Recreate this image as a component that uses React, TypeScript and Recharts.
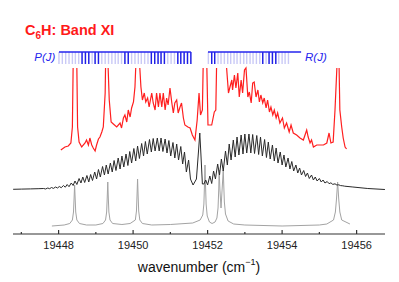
import React from "react";
import { LineChart, Line, XAxis, YAxis, ReferenceLine } from "recharts";

// intensity in arbitrary units (0 = bottom of frame, 221 = top of frame)
const redTrace: [number, number | null][] = [
  [19448.06, 84], [19448.17, 87], [19448.26, 88], [19448.33, 91], [19448.37, 107], [19448.39, 166],
  [19448.44, null],
  [19448.49, 166], [19448.51, 107], [19448.55, 92], [19448.62, 87], [19448.71, 91], [19448.75, 94],
  [19448.8, 89], [19448.84, 96], [19448.89, 89], [19448.93, 86], [19448.98, 83], [19449.02, 89],
  [19449.07, 95], [19449.11, 97], [19449.16, 102], [19449.2, 107], [19449.25, 141], [19449.26, 166],
  [19449.3, null],
  [19449.33, 166], [19449.36, 134], [19449.41, 112], [19449.47, 110], [19449.56, 107], [19449.65, 111],
  [19449.69, 106], [19449.74, 116], [19449.78, 119], [19449.83, 112], [19449.87, 124], [19449.92, 117],
  [19449.96, 126], [19450.01, 132], [19450.05, 147], [19450.07, 166],
  [19450.12, null],
  [19450.18, 166], [19450.21, 147], [19450.25, 134], [19450.3, 141], [19450.34, 132], [19450.39, 136],
  [19450.43, 127], [19450.5, 141], [19450.54, 131], [19450.59, 124], [19450.63, 141], [19450.68, 127],
  [19450.72, 141], [19450.77, 127], [19450.81, 141], [19450.86, 124], [19450.9, 136], [19450.94, 129],
  [19450.99, 146], [19451.04, 131], [19451.08, 121], [19451.12, 131], [19451.17, 134], [19451.21, 121],
  [19451.26, 127], [19451.3, 131], [19451.35, 116], [19451.39, 109], [19451.47, 107], [19451.53, 106],
  [19451.59, 99], [19451.66, 94], [19451.72, 114], [19451.77, 141], [19451.81, 119], [19451.86, 124],
  [19451.88, 166],
  [19451.93, null],
  [19451.98, 166], [19452.01, 109], [19452.11, 109], [19452.18, 122], [19452.22, 124], [19452.24, 166],
  [19452.4, null],
  [19452.51, 166], [19452.56, 141], [19452.6, 147], [19452.65, 154], [19452.67, 144], [19452.72, 159],
  [19452.76, 146], [19452.81, 161], [19452.85, 137], [19452.9, 154], [19452.94, 141], [19452.99, 164],
  [19453.03, 166], [19453.08, 137], [19453.12, 142], [19453.17, 131], [19453.21, 151], [19453.25, 152],
  [19453.3, 137], [19453.35, 144], [19453.39, 132], [19453.43, 139], [19453.48, 131], [19453.52, 136],
  [19453.57, 126], [19453.61, 134], [19453.66, 122], [19453.7, 127], [19453.75, 119], [19453.79, 124],
  [19453.84, 116], [19453.88, 121], [19453.94, 111], [19454.01, 116], [19454.06, 106], [19454.12, 111],
  [19454.19, 102], [19454.24, 109], [19454.3, 101], [19454.39, 99], [19454.48, 96], [19454.57, 94],
  [19454.66, 104], [19454.7, 97], [19454.75, 91], [19454.79, 94], [19454.84, 87], [19454.93, 89],
  [19455.02, 89], [19455.11, 89], [19455.2, 91], [19455.26, 101], [19455.31, 91], [19455.37, 92],
  [19455.42, 124], [19455.47, 166],
  [19455.5, null],
  [19455.53, 166], [19455.55, 124], [19455.6, 107], [19455.64, 96], [19455.69, 87], [19455.73, 85],
];

const blackTrace: [number, number][] = [
  [19446.78, 44.7], [19447.0, 44.9], [19447.25, 45.1], [19447.45, 45.3],
  [19447.6, 45.5], [19447.65, 45.0], [19447.71, 46], [19447.76, 45.3], [19447.81, 46.5], [19447.86, 45.6],
  [19447.92, 47], [19447.97, 46], [19448.02, 47.5], [19448.07, 46.3], [19448.13, 48.5], [19448.18, 46.8],
  [19448.23, 49.5], [19448.28, 47.3], [19448.34, 51], [19448.39, 48.5], [19448.44, 53], [19448.49, 49.5],
  [19448.55, 55.5], [19448.6, 51], [19448.65, 57], [19448.7, 51.5], [19448.76, 58.5], [19448.81, 52],
  [19448.86, 59.5], [19448.91, 53.5], [19448.97, 62], [19449.02, 55], [19449.07, 64.5], [19449.12, 57],
  [19449.18, 67.5], [19449.23, 59], [19449.28, 69], [19449.33, 60], [19449.39, 71], [19449.44, 62],
  [19449.49, 73.5], [19449.54, 63.5], [19449.6, 76], [19449.65, 65], [19449.7, 78], [19449.75, 67],
  [19449.81, 80], [19449.86, 68.5], [19449.91, 82.5], [19449.96, 71], [19450.02, 85.5], [19450.07, 73],
  [19450.12, 88], [19450.17, 75.5], [19450.23, 90.5], [19450.28, 78], [19450.33, 92.5], [19450.38, 80],
  [19450.44, 94.5], [19450.49, 82], [19450.54, 95.5], [19450.59, 83], [19450.65, 96], [19450.7, 83],
  [19450.75, 96], [19450.8, 82.5], [19450.86, 95], [19450.91, 81], [19450.96, 93.5], [19451.01, 78],
  [19451.07, 91.5], [19451.12, 76], [19451.17, 90], [19451.22, 74], [19451.28, 87.5], [19451.33, 70],
  [19451.38, 82], [19451.43, 62], [19451.49, 74], [19451.54, 55],
  [19451.61, 49], [19451.7, 55], [19451.76, 85], [19451.79, 101], [19451.82, 80], [19451.86, 50], [19451.9, 50],
  [19451.95, 54], [19452.0, 49], [19452.06, 58], [19452.11, 50.5], [19452.16, 63], [19452.21, 55],
  [19452.27, 70], [19452.32, 59], [19452.37, 75], [19452.42, 63], [19452.48, 83], [19452.53, 69],
  [19452.58, 90], [19452.63, 74], [19452.69, 94], [19452.74, 77], [19452.79, 97], [19452.84, 79],
  [19452.9, 99], [19452.95, 80], [19453.0, 100], [19453.05, 81], [19453.11, 100], [19453.16, 81],
  [19453.21, 99.5], [19453.26, 80.5], [19453.32, 98.5], [19453.37, 79.5], [19453.42, 97], [19453.47, 78],
  [19453.53, 94.5], [19453.58, 76.5], [19453.63, 92], [19453.68, 75], [19453.74, 89], [19453.79, 73],
  [19453.84, 86], [19453.89, 71], [19453.95, 82], [19454.0, 69], [19454.05, 79], [19454.1, 67],
  [19454.16, 76], [19454.21, 65], [19454.26, 72.5], [19454.31, 63], [19454.37, 69], [19454.42, 61],
  [19454.47, 66], [19454.52, 59], [19454.58, 63.5], [19454.63, 57.5], [19454.68, 61], [19454.73, 55.5],
  [19454.79, 59], [19454.84, 54], [19454.89, 57], [19454.94, 53], [19455.0, 55.5], [19455.05, 52],
  [19455.1, 54], [19455.15, 51], [19455.21, 52.5], [19455.26, 50.3], [19455.31, 51.2], [19455.36, 49.6],
  [19455.42, 50.2], [19455.47, 49], [19455.52, 49.2], [19455.57, 48.4], [19455.63, 48.2], [19455.68, 47.8],
  [19455.9, 47], [19456.3, 45.5], [19456.76, 44.5],
];

const grayTrace: [number, number][] = [
  [19447.82, 8], [19448.15, 9], [19448.3, 10.5], [19448.37, 14], [19448.4, 22], [19448.415, 35],
  [19448.43, 49], [19448.445, 35], [19448.46, 22], [19448.49, 14], [19448.56, 10.5], [19448.75, 9],
  [19449.0, 9], [19449.19, 10.5], [19449.26, 14], [19449.29, 22], [19449.305, 36], [19449.32, 52],
  [19449.335, 36], [19449.35, 22], [19449.38, 14], [19449.45, 10.5], [19449.7, 9.5], [19449.92, 10.5],
  [19450.06, 14], [19450.09, 23], [19450.105, 38], [19450.12, 55], [19450.135, 38], [19450.15, 23],
  [19450.18, 14], [19450.25, 10.5], [19450.5, 9], [19451.0, 9.5], [19451.6, 11], [19451.8, 14],
  [19451.87, 19], [19451.9, 30], [19451.915, 48], [19451.93, 69], [19451.945, 48], [19451.96, 30],
  [19451.99, 18], [19452.05, 12], [19452.12, 10.5], [19452.2, 12], [19452.25, 16], [19452.28, 26],
  [19452.3, 45], [19452.31, 64], [19452.33, 45], [19452.36, 26], [19452.39, 45], [19452.42, 64],
  [19452.435, 48], [19452.45, 32], [19452.48, 20], [19452.55, 13], [19452.7, 10], [19453.0, 9],
  [19454.0, 8], [19455.0, 9], [19455.2, 10], [19455.38, 14], [19455.43, 22], [19455.46, 35],
  [19455.49, 52], [19455.52, 35], [19455.55, 22], [19455.6, 14], [19455.82, 10],
];

// rotational line positions (assignment ladder)
const pLines = [
  19448.01, 19448.1, 19448.19, 19448.28, 19448.37, 19448.45, 19448.54, 19448.63, 19448.72, 19448.81,
  19448.9, 19448.98, 19449.07, 19449.16, 19449.25, 19449.34, 19449.43, 19449.52, 19449.6, 19449.69,
  19449.78, 19449.87, 19449.96, 19450.05, 19450.14, 19450.22, 19450.31, 19450.4, 19450.49, 19450.58,
  19450.67, 19450.75, 19450.84, 19450.93, 19451.02, 19451.11, 19451.2, 19451.28, 19451.37, 19451.46,
  19451.55,
];
const pStrong = [
  19448.63, 19448.72, 19448.81, 19448.98, 19449.07, 19449.78, 19449.87, 19450.49, 19450.58, 19450.67,
  19450.75, 19450.84, 19451.2, 19451.28, 19451.37, 19451.46, 19451.55,
];
const rLines = [
  19452.02, 19452.11, 19452.19, 19452.28, 19452.36, 19452.45, 19452.54, 19452.62, 19452.71, 19452.79,
  19452.88, 19452.97, 19453.05, 19453.14, 19453.22, 19453.31, 19453.4, 19453.48, 19453.57, 19453.65,
  19453.74, 19453.83, 19453.91, 19454.0, 19454.08, 19454.17,
];
const rStrong = [19452.11, 19452.19, 19453.48, 19453.65, 19453.74, 19453.83];
const pRange = [19448.01, 19451.55];
const rRange = [19452.01, 19454.51];

const xTicks = [19447, 19448, 19449, 19450, 19451, 19452, 19453, 19454, 19455, 19456];
const xDomain = [19446.776, 19456.762];

const FONT = "'Liberation Sans', Arial, Helvetica, sans-serif";
const FRAME = { stroke: "#333", strokeWidth: 1.2 };

const toPoints = (arr: [number, number | null][]) => arr.map(([x, y]) => ({ x, y }));

const AxisTick = (props: any) => {
  const { x, y, payload } = props;
  const major = payload.value % 2 === 0;
  return (
    <g>
      <line x1={x} x2={x} y1={y} y2={y - (major ? 4 : 2)} stroke="#333" strokeWidth={1.2} />
      {major && (
        <text x={x} y={y + 15} textAnchor="middle" fontSize={11} fill="#222" fontFamily={FONT}>
          {payload.value}
        </text>
      )}
    </g>
  );
};

export default function App() {
  const stickTop = 182;
  const stickBottom = 170;
  return (
    <div style={{ position: "relative", width: 391, height: 274 }}>
      <LineChart width={391} height={274} margin={{ top: 5, right: 14, bottom: 0, left: 5 }}>
        <XAxis
          dataKey="x"
          type="number"
          domain={xDomain}
          allowDataOverflow
          ticks={xTicks}
          interval={0}
          tick={<AxisTick />}
          tickLine={false}
          tickSize={0}
          tickMargin={0}
          height={48}
          axisLine={FRAME}
        />
        <XAxis
          xAxisId="top"
          orientation="top"
          dataKey="x"
          type="number"
          domain={xDomain}
          allowDataOverflow
          height={0}
          tick={false}
          tickLine={false}
          axisLine={FRAME}
        />
        <YAxis type="number" domain={[0, 221]} allowDataOverflow width={0} tick={false} tickLine={false} axisLine={FRAME} />
        <YAxis yAxisId="right" orientation="right" type="number" domain={[0, 221]} width={0} tick={false} tickLine={false} axisLine={FRAME} />

        {pLines.concat(rLines).map((w, i) => (
          <ReferenceLine
            key={"pale" + i}
            segment={[{ x: w, y: stickTop }, { x: w, y: stickBottom }]}
            stroke="#c9c9f6"
            strokeWidth={1.4}
          />
        ))}
        {pStrong.concat(rStrong).map((w, i) => (
          <ReferenceLine
            key={"dark" + i}
            segment={[{ x: w, y: stickTop }, { x: w, y: stickBottom }]}
            stroke="#1f1fe6"
            strokeWidth={1.4}
          />
        ))}
        <ReferenceLine segment={[{ x: pRange[0], y: stickTop }, { x: pRange[1], y: stickTop }]} stroke="#2424ee" strokeWidth={1.5} />
        <ReferenceLine segment={[{ x: rRange[0], y: stickTop }, { x: rRange[1], y: stickTop }]} stroke="#2424ee" strokeWidth={1.5} />

        <Line data={toPoints(grayTrace)} dataKey="y" type="linear" stroke="#a3a3a3" strokeWidth={1} dot={false} isAnimationActive={false} />
        <Line data={toPoints(blackTrace)} dataKey="y" type="linear" stroke="#2a2a2a" strokeWidth={1} dot={false} isAnimationActive={false} />
        <Line data={toPoints(redTrace)} dataKey="y" type="linear" stroke="#ff1f1f" strokeWidth={1.2} dot={false} isAnimationActive={false} />
      </LineChart>
      <svg width={391} height={274} style={{ position: "absolute", left: 0, top: 0, pointerEvents: "none" }}>
        <text x={17} y={27.4} fill="#ff1a1a" fontWeight="bold" fontSize={14.5} fontFamily={FONT}>
          C<tspan fontSize={10} dy={4}>6</tspan>
          <tspan dy={-4}>H: Band XI</tspan>
        </text>
        <text x={26.3} y={53} fill="#2424ee" fontStyle="italic" fontSize={11.5} fontFamily={FONT}>P(J)</text>
        <text x={297} y={53} fill="#2424ee" fontStyle="italic" fontSize={11.5} fontFamily={FONT}>R(J)</text>
        <text x={191} y={264} textAnchor="middle" fill="#111" fontSize={14} fontFamily={FONT}>
          wavenumber (cm<tspan fontSize={9} dy={-7}>−1</tspan>
          <tspan dy={7}>)</tspan>
        </text>
      </svg>
    </div>
  );
}
